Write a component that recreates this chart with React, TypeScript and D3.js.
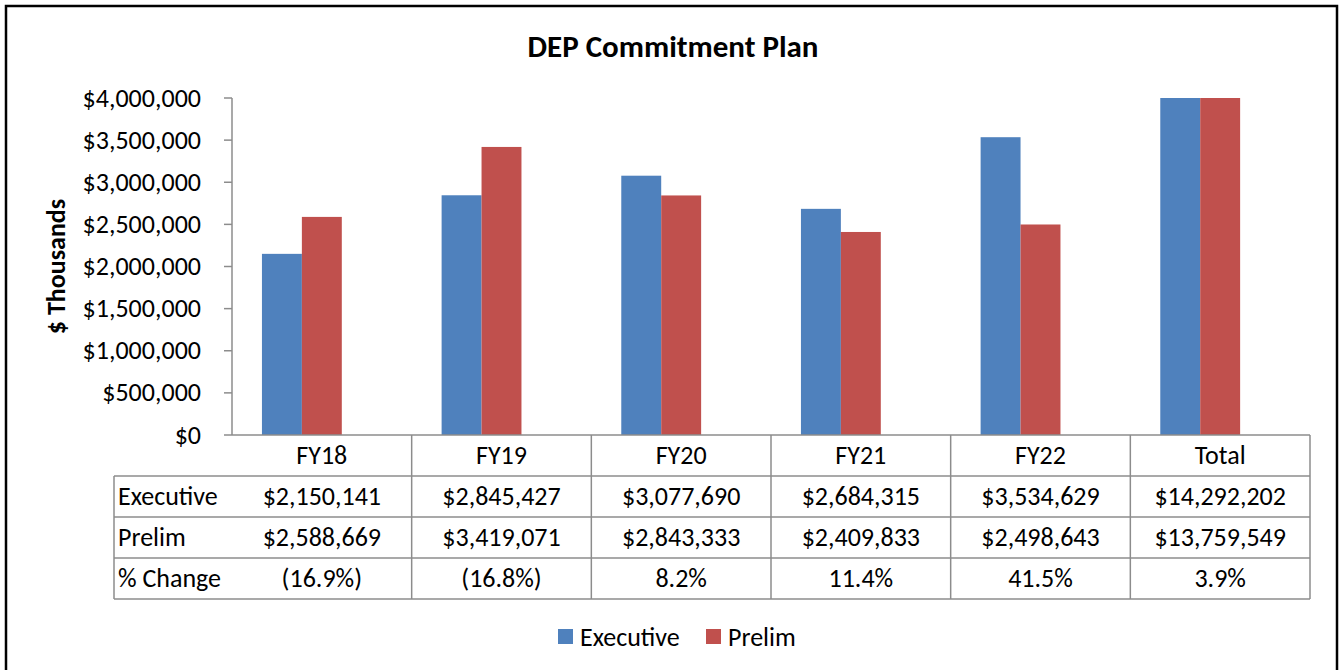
import React from 'react';
import * as d3 from 'd3';

const categories = ['FY18', 'FY19', 'FY20', 'FY21', 'FY22', 'Total'];
const executive = [2150141, 2845427, 3077690, 2684315, 3534629, 14292202];
const prelim = [2588669, 3419071, 2843333, 2409833, 2498643, 13759549];
const pctChange = ['(16.9%)', '(16.8%)', '8.2%', '11.4%', '41.5%', '3.9%'];
const yTicks = [0, 500000, 1000000, 1500000, 2000000, 2500000, 3000000, 3500000, 4000000];
const seriesNames = ['Executive', 'Prelim', '% Change'];

const FONT = 'Carlito, Lato, sans-serif';
const BLUE = '#4F81BD';
const RED = '#C0504D';
const GRID = '#8c8c8c';
const FS = 26;

export default function App() {
  const width = 1339;
  const height = 670;
  const left = 232;
  const right = 1310;
  const top = 98;
  const bottom = 435;
  const rowH = 41;

  const x = d3.scaleBand().domain(categories).range([left, right]).paddingInner(0).paddingOuter(0);
  // Excel keeps a slot for the (invisible) % Change series, so bars sit left of center
  const sub = d3.scaleBand().domain(seriesNames).range([0, x.bandwidth()]).paddingInner(0).paddingOuter(0.75);
  const y = d3.scaleLinear().domain([0, 4000000]).range([bottom, top]).clamp(true);
  const fmt = (v: number) => '$' + d3.format(',')(v);

  const bars = categories.flatMap((c, i) => [
    { key: c + '-e', x: x(c)! + sub('Executive')!, v: executive[i], fill: BLUE },
    { key: c + '-p', x: x(c)! + sub('Prelim')!, v: prelim[i], fill: RED },
  ]);

  const rows = [
    { label: 'Executive', vals: executive.map(fmt) },
    { label: 'Prelim', vals: prelim.map(fmt) },
    { label: '% Change', vals: pctChange },
  ];
  const tableLeft = 114;
  const tableBottom = bottom + rowH * 4;

  return (
    <svg width={width} height={height} style={{ position: 'absolute', left: 0, top: 0, background: '#fff' }} fontFamily={FONT}>
      <rect x={6} y={6} width={1331} height={700} fill="#fff" stroke="#000" strokeWidth={2.5} />
      <text x={673} y={57} textAnchor="middle" fontSize={31} fontWeight="bold">DEP Commitment Plan</text>
      <text transform={`translate(65,${(top + bottom) / 2}) rotate(-90)`} textAnchor="middle" fontSize={26} fontWeight="bold">$ Thousands</text>

      {bars.map(b => (
        <rect key={b.key} x={b.x} y={y(b.v)} width={sub.bandwidth()} height={y(0) - y(b.v)} fill={b.fill} />
      ))}

      {/* y axis */}
      <line x1={left} x2={left} y1={top} y2={bottom} stroke={GRID} strokeWidth={1.5} />
      {yTicks.map(t => (
        <g key={t}>
          <line x1={left - 8} x2={left} y1={y(t)} y2={y(t)} stroke={GRID} strokeWidth={1.5} />
          <text x={201} y={y(t)} dy="0.33em" textAnchor="end" fontSize={FS}>{fmt(t)}</text>
        </g>
      ))}

      {/* data table */}
      <line x1={left} x2={right} y1={bottom} y2={bottom} stroke={GRID} strokeWidth={1.5} />
      {[1, 2, 3, 4].map(r => (
        <line key={r} x1={tableLeft} x2={right} y1={bottom + rowH * r} y2={bottom + rowH * r} stroke={GRID} strokeWidth={1.5} />
      ))}
      <line x1={tableLeft} x2={tableLeft} y1={bottom + rowH} y2={tableBottom} stroke={GRID} strokeWidth={1.5} />
      {categories.map(c => (
        <line key={c} x1={x(c)! + x.bandwidth()} x2={x(c)! + x.bandwidth()} y1={bottom} y2={tableBottom} stroke={GRID} strokeWidth={1.5} />
      ))}
      {categories.map(c => (
        <text key={c} x={x(c)! + x.bandwidth() / 2} y={bottom + rowH / 2} dy="0.33em" textAnchor="middle" fontSize={FS}>{c}</text>
      ))}
      {rows.map((r, ri) => (
        <g key={r.label}>
          <text x={tableLeft + 4} y={bottom + rowH * (ri + 1.5)} dy="0.33em" fontSize={FS}>{r.label}</text>
          {r.vals.map((v, ci) => (
            <text key={ci} x={x(categories[ci])! + x.bandwidth() / 2} y={bottom + rowH * (ri + 1.5)} dy="0.33em" textAnchor="middle" fontSize={FS}>{v}</text>
          ))}
        </g>
      ))}

      {/* legend */}
      <rect x={558} y={629} width={15} height={15} fill={BLUE} />
      <text x={580} y={637} dy="0.33em" fontSize={FS}>Executive</text>
      <rect x={706} y={629} width={15} height={15} fill={RED} />
      <text x={728} y={637} dy="0.33em" fontSize={FS}>Prelim</text>
    </svg>
  );
}
